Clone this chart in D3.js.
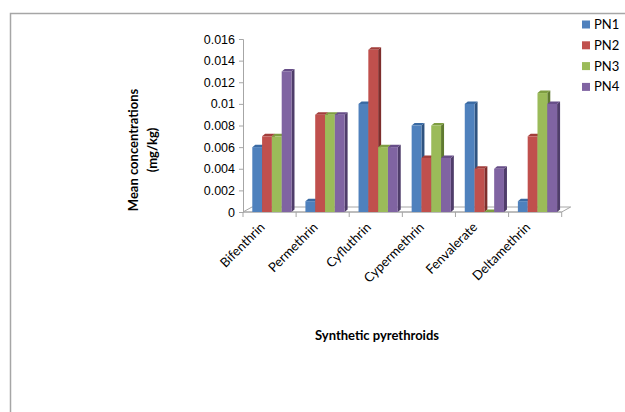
<!DOCTYPE html>
<html>
<head>
<meta charset="utf-8">
<script src="https://cdn.jsdelivr.net/npm/d3@7"></script>
<style>
  html, body { margin: 0; padding: 0; background: #fff; }
  svg { display: block; font-family: Lato, "Liberation Sans", sans-serif; }
</style>
</head>
<body>
<svg id="chart" width="625" height="412"></svg>
<script>
// Mean concentrations (mg/kg) of synthetic pyrethroids at four sites
const categories = ["Bifenthrin", "Permethrin", "Cyfluthrin", "Cypermethrin", "Fenvalerate", "Deltamethrin"];
const seriesNames = ["PN1", "PN2", "PN3", "PN4"];
const PN1 = [0.006, 0.001, 0.010, 0.008, 0.010, 0.001];
const PN2 = [0.007, 0.009, 0.015, 0.005, 0.004, 0.007];
const PN3 = [0.007, 0.009, 0.006, 0.008, 0.000, 0.011];
const PN4 = [0.013, 0.009, 0.006, 0.005, 0.004, 0.010];
const yTicks = [0, 0.002, 0.004, 0.006, 0.008, 0.01, 0.012, 0.014, 0.016];

const seriesValues = [PN1, PN2, PN3, PN4];
const colors = ["#4F81BD", "#C0504D", "#9BBB59", "#8064A2"];
const sideColors = ["#2F5380", "#7E2E2C", "#5F7A30", "#4F3D6A"];
const topColors = ["#3A6AA3", "#A23E3B", "#7F9E42", "#674E88"];

const svg = d3.select("#chart");

// outer frame
svg.append("path")
  .attr("d", "M10.5,412 L10.5,13.5 L625,13.5")
  .attr("fill", "none").attr("stroke", "#a6a6a6").attr("stroke-width", 1.5);

const plot = { left: 243, right: 561.7, top: 39, bottom: 212 };
const depth = { dx: 9, dy: 5 };
const bar3d = { dx: 3, dy: 2.5 };

const y = d3.scaleLinear().domain([0, 0.016]).range([plot.bottom, plot.top]);
const x = d3.scaleBand().domain(categories).range([plot.left, plot.right]).padding(0);
const xs = d3.scaleBand().domain(seriesNames).range([9.3, 9.3 + 39.2]).padding(0);

// floor
const g = svg.append("g");
g.append("path")
  .attr("d", `M${plot.left},${plot.bottom} L${plot.left + depth.dx},${plot.bottom - depth.dy} L${plot.right + depth.dx},${plot.bottom - depth.dy} L${plot.right},${plot.bottom} Z`)
  .attr("fill", "#fff").attr("stroke", "#a6a6a6").attr("stroke-width", 1);

// y axis
const yAxis = d3.axisLeft(y).tickValues(yTicks).tickSize(4).tickPadding(4)
  .tickFormat(d => d === 0 ? "0" : String(+d.toFixed(3)));
const ya = svg.append("g").attr("transform", `translate(${plot.left},0)`).call(yAxis);
ya.select(".domain").attr("stroke", "#a6a6a6");
ya.selectAll(".tick line").attr("stroke", "#a6a6a6");
ya.selectAll("text").attr("font-size", 12.5).attr("fill", "#000");

// x axis ticks at band boundaries
const xa = svg.append("g").attr("transform", `translate(0,${plot.bottom})`);
xa.append("line").attr("x1", plot.left).attr("x2", plot.right).attr("stroke", "#a6a6a6");
xa.selectAll("line.tk").data(categories.concat(["end"])).enter().append("line")
  .attr("class", "tk")
  .attr("x1", (d, i) => i < categories.length ? x(d) : plot.right)
  .attr("x2", (d, i) => i < categories.length ? x(d) : plot.right)
  .attr("y1", 0).attr("y2", 5).attr("stroke", "#a6a6a6");

// bars with front, top and side faces
const bars = [];
categories.forEach((c, ci) => {
  seriesNames.forEach((s, si) => {
    bars.push({ c, s, si, v: seriesValues[si][ci] });
  });
});
const bg = svg.append("g");
bars.forEach(b => {
  const x0 = x(b.c) + xs(b.s);
  const w = xs.bandwidth();
  const yt = y(b.v);
  const yb = y(0);
  const grp = bg.append("g");
  grp.append("path")
    .attr("d", `M${x0 + w},${yt} L${x0 + w + bar3d.dx},${yt - bar3d.dy} L${x0 + w + bar3d.dx},${yb - bar3d.dy} L${x0 + w},${yb} Z`)
    .attr("fill", sideColors[b.si]);
  grp.append("path")
    .attr("d", `M${x0},${yt} L${x0 + bar3d.dx},${yt - bar3d.dy} L${x0 + w + bar3d.dx},${yt - bar3d.dy} L${x0 + w},${yt} Z`)
    .attr("fill", topColors[b.si]);
  if (b.v > 0) {
    grp.append("rect")
      .attr("x", x0).attr("y", yt).attr("width", w).attr("height", yb - yt)
      .attr("fill", colors[b.si]);
  }
});

// category labels
svg.append("g").selectAll("text").data(categories).enter().append("text")
  .attr("transform", d => `translate(${x(d) + x.bandwidth() / 2 - 4},${plot.bottom + 16}) rotate(-45)`)
  .attr("text-anchor", "end")
  .attr("font-size", 13).attr("fill", "#000")
  .text(d => d);

// axis titles
const yt = svg.append("text")
  .attr("transform", "translate(138,150) rotate(-90)")
  .attr("text-anchor", "middle").attr("font-size", 13).attr("font-weight", "bold");
yt.append("tspan").attr("x", 0).attr("dy", 0).text("Mean concentrations");
yt.append("tspan").attr("x", 0).attr("dy", 19).text("(mg/kg)");

svg.append("text")
  .attr("x", 377).attr("y", 340)
  .attr("text-anchor", "middle").attr("font-size", 13).attr("font-weight", "bold")
  .text("Synthetic pyrethroids");

// legend
const lg = svg.append("g").attr("transform", "translate(582,0)");
seriesNames.forEach((s, i) => {
  const cy = 24.5 + i * 20.8;
  lg.append("rect").attr("x", 0).attr("y", cy - 4).attr("width", 8).attr("height", 8).attr("fill", colors[i]);
  lg.append("text").attr("x", 12).attr("y", cy + 4.5).attr("font-size", 13).text(s);
});
</script>
</body>
</html>
